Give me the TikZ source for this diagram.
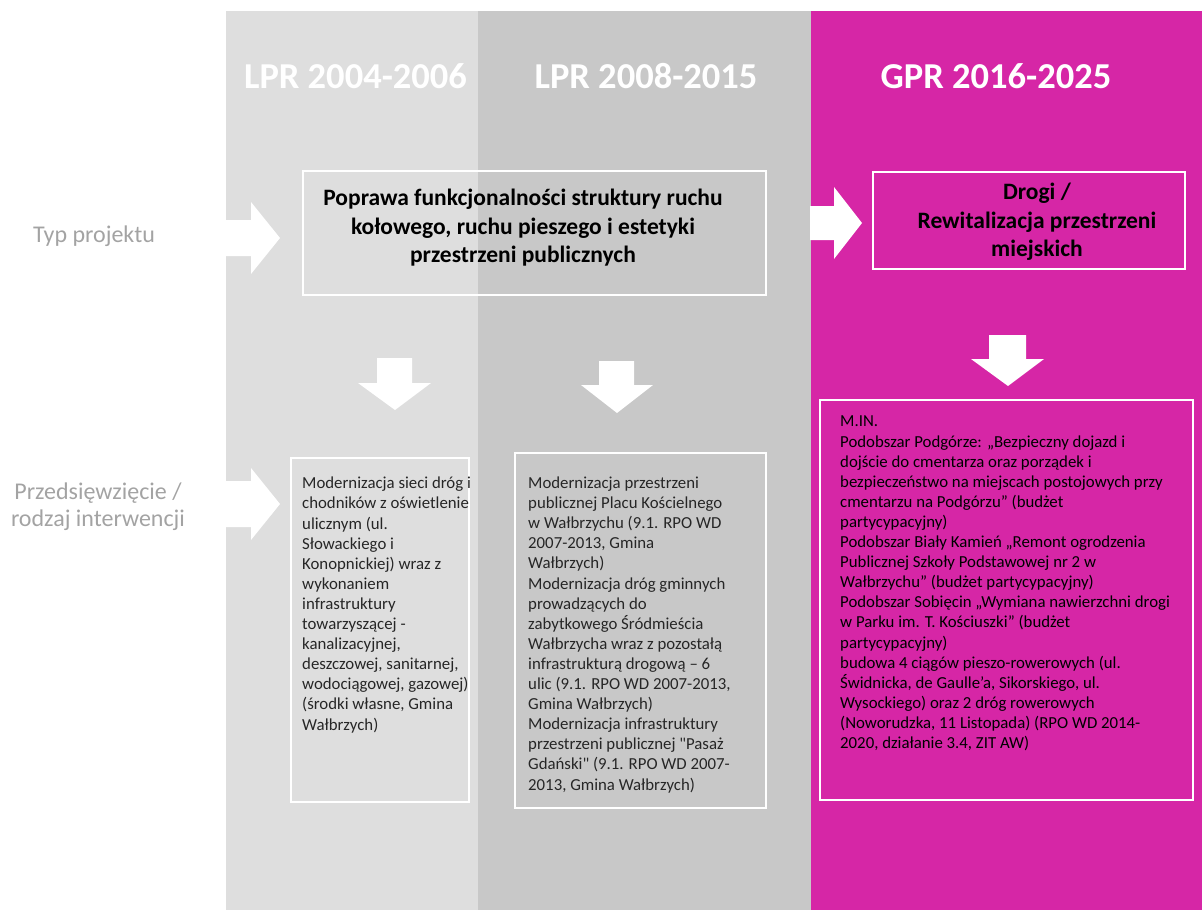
\documentclass[tikz,border=0pt]{standalone}
\usepackage{fontspec}
\setmainfont{Carlito}
\usetikzlibrary{calc,positioning,fit,backgrounds}
\definecolor{lprA}{HTML}{DEDEDE}
\definecolor{lprB}{HTML}{C8C8C8}
\definecolor{gpr}{RGB}{214,38,166}
\definecolor{etykieta}{HTML}{A3A3A3}
\definecolor{tekst}{HTML}{262626}

\begin{document}
\begin{tikzpicture}[x=1pt,y=-1pt,inner sep=0pt,
  okno/.style={draw=white,line width=2.6pt},
  naglowek/.style={text=white,font=\fontsize{36.5}{40}\selectfont\bfseries},
  wiersz/.style={text=etykieta,align=center,font=\fontsize{24}{27}\selectfont},
  tytul/.style={align=center,font=\fontsize{23.5}{28.5}\selectfont\bfseries},
  opis/.style={anchor=base west,align=left,text=tekst,font=\fontsize{16.8}{20.1}\selectfont},
  strzalka/.style={fill=white}]
\useasboundingbox (0,0) rectangle (1202,910);
\fill[lprA] (226,11) rectangle (478,910);
\fill[lprB] (478,11) rectangle (811,910);
\fill[gpr] (811,11) rectangle (1202,910);

\node[naglowek] (h1) at (355.5,76) {LPR 2004-2006};
\node[naglowek] (h2) at (646,76) {LPR 2008-2015};
\node[naglowek] (h3) at (996,76) {GPR 2016-2025};

\node[wiersz] (typ) at (94,236) {Typ projektu};
\node[wiersz] (przed) at (98,507) {Przedsięwzięcie /\\rodzaj interwencji};

\fill[strzalka] (226,220) -- (251,220) -- (251,202) -- (280,238) -- (251,274) -- (251,256) -- (226,256) -- cycle;
\fill[strzalka] (226,481) -- (251,481) -- (251,468) -- (280,504) -- (251,540) -- (251,527) -- (226,527) -- cycle;
\fill[strzalka] (810,206) -- (834,206) -- (834,187) -- (862,223) -- (834,259) -- (834,240) -- (810,240) -- cycle;
\fill[strzalka] (377,358) -- (412,358) -- (412,383) -- (431,383) -- (395,410) -- (358,383) -- (377,383) -- cycle;
\fill[strzalka] (599,361) -- (634,361) -- (634,385) -- (653,385) -- (617,413) -- (581,385) -- (599,385) -- cycle;
\fill[strzalka] (989,335) -- (1026,335) -- (1026,359) -- (1044,359) -- (1008,386) -- (971,359) -- (989,359) -- cycle;

\draw[okno] (303,171) rectangle (766,295);
\node[tytul] (typA) at (523,228) {Poprawa funkcjonalności struktury ruchu\\kołowego, ruchu pieszego i estetyki\\przestrzeni publicznych};
\draw[okno] (873,172) rectangle (1185,269);
\node[tytul] (typB) at (1037,222) {Drogi /\\Rewitalizacja przestrzeni\\miejskich};

\draw[okno] (291,458) rectangle (469,802);
\node[opis] (p1) at (302,730) {Modernizacja sieci dróg i\\chodników z oświetlenie\\ulicznym (ul.\\Słowackiego i\\Konopnickiej) wraz z\\wykonaniem\\infrastruktury\\towarzyszącej -\\kanalizacyjnej,\\deszczowej, sanitarnej,\\wodociągowej, gazowej)\\(środki własne, Gmina\\Wałbrzych)};

\draw[okno] (515,453) rectangle (766,808);
\node[opis] (p2) at (528,790) {Modernizacja przestrzeni\\publicznej Placu Kościelnego\\w Wałbrzychu (9.1. RPO WD\\2007-2013, Gmina\\Wałbrzych)\\Modernizacja dróg gminnych\\prowadzących do\\zabytkowego Śródmieścia\\Wałbrzycha wraz z pozostałą\\infrastrukturą drogową – 6\\ulic (9.1. RPO WD 2007-2013,\\Gmina Wałbrzych)\\Modernizacja infrastruktury\\przestrzeni publicznej \textquotedbl Pasaż\\Gdański\textquotedbl{} (9.1. RPO WD 2007-\\2013, Gmina Wałbrzych)};

\draw[okno] (820,400) rectangle (1193,800);
\node[opis,text=black] (p3) at (840,748.5) {M.IN.\\Podobszar Podgórze: „Bezpieczny dojazd i\\dojście do cmentarza oraz porządek i\\bezpieczeństwo na miejscach postojowych przy\\cmentarzu na Podgórzu” (budżet\\partycypacyjny)\\Podobszar Biały Kamień „Remont ogrodzenia\\Publicznej Szkoły Podstawowej nr 2 w\\Wałbrzychu” (budżet partycypacyjny)\\Podobszar Sobięcin „Wymiana nawierzchni drogi\\w Parku im. T. Kościuszki” (budżet\\partycypacyjny)\\budowa 4 ciągów pieszo-rowerowych (ul.\\Świdnicka, de Gaulle’a, Sikorskiego, ul.\\Wysockiego) oraz 2 dróg rowerowych\\(Noworudzka, 11 Listopada) (RPO WD 2014-\\2020, działanie 3.4, ZIT AW)};
\end{tikzpicture}
\end{document}
